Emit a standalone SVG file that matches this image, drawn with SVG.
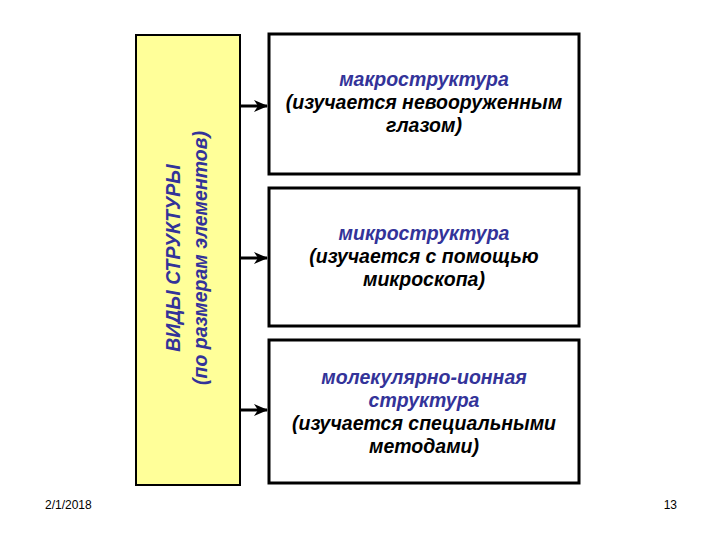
<svg xmlns="http://www.w3.org/2000/svg" width="720" height="540" viewBox="0 0 720 540">
<defs>
<style>
.box{fill:#fff;stroke:#000;stroke-width:3}
.t{font-family:"Liberation Sans",Arial,sans-serif;font-size:19.5px;font-style:italic;font-weight:bold;text-anchor:middle;fill:#000}
.b{fill:#333399}
.c{stroke:#000;stroke-width:3;fill:none}
.d{font-family:"Liberation Sans",Arial,sans-serif;font-size:12px;fill:#000}
</style>
<marker id="ah" markerWidth="14" markerHeight="12" refX="13" refY="6" orient="auto" markerUnits="userSpaceOnUse" viewBox="0 0 14 12"><path d="M0,0 L14,6 L0,12 L4,6 Z" fill="#000"/></marker>
</defs>
<rect width="720" height="540" fill="#fff"/>
<g id="left">
<rect x="136" y="35" width="104" height="450" fill="#ffff99" stroke="#000" stroke-width="2"/>
<text class="t" transform="translate(180,258) rotate(-90)"><tspan class="b">ВИДЫ СТРУКТУРЫ</tspan></text>
<text class="t" transform="translate(207,258) rotate(-90)"><tspan class="b">(по размерам элементов)</tspan></text>
</g>
<g id="macro">
<rect class="box" x="269" y="34" width="310" height="140"/>
<text class="t" x="424" y="86"><tspan class="b">макроструктура</tspan><tspan x="424" dy="23">(изучается невооруженным</tspan><tspan x="424" dy="23">глазом)</tspan></text>
</g>
<g id="micro">
<rect class="box" x="269" y="188" width="310" height="138"/>
<text class="t" x="424" y="240"><tspan class="b">микроструктура</tspan><tspan x="424" dy="23">(изучается с помощью</tspan><tspan x="424" dy="23">микроскопа)</tspan></text>
</g>
<g id="molec">
<rect class="box" x="269" y="340" width="310" height="143"/>
<text class="t" x="424" y="384"><tspan class="b">молекулярно-ионная</tspan><tspan class="b" x="424" dy="23">структура</tspan><tspan x="424" dy="23">(изучается специальными</tspan><tspan x="424" dy="23">методами)</tspan></text>
</g>
<g id="connectors">
<line class="c" x1="240" y1="106" x2="267" y2="106" marker-end="url(#ah)"/>
<line class="c" x1="240" y1="258" x2="267" y2="258" marker-end="url(#ah)"/>
<line class="c" x1="240" y1="410" x2="267" y2="410" marker-end="url(#ah)"/>
</g>
<text class="d" x="45" y="509">2/1/2018</text>
<text class="d" x="677" y="509" text-anchor="end">13</text>
</svg>
